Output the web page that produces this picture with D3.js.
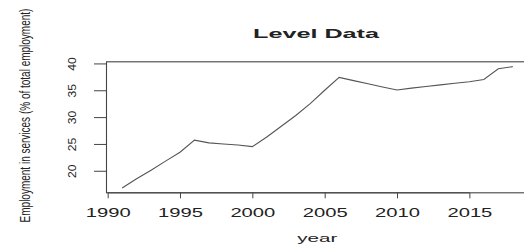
<!DOCTYPE html>
<html>
<head>
<meta charset="utf-8">
<script src="https://cdn.jsdelivr.net/npm/d3@7"></script>
<style>
  html, body { margin: 0; padding: 0; background: #fff; }
  svg { display: block; }
  text { font-family: "Liberation Sans", Arial, sans-serif; fill: #222; }
</style>
</head>
<body>
<script>
const years = [1991,1992,1993,1994,1995,1996,1997,1998,1999,2000,2001,2002,2003,2004,2005,2006,2007,2008,2009,2010,2011,2012,2013,2014,2015,2016,2017,2018];
const values = [16.8,18.5,20.1,21.8,23.45,25.7,25.2,25.0,24.8,24.5,26.3,28.3,30.3,32.5,35.0,37.4,36.8,36.2,35.6,35.05,35.4,35.7,36.0,36.3,36.6,37.0,39.0,39.4];
const xTicks = [1990,1995,2000,2005,2010,2015];
const yTicks = [20,25,30,35,40];
const title = "Level Data";
const xTitle = "year";
const yTitle = "Employment in services (% of total employment)";

const W = 524, H = 249;
const svg = d3.select("body").append("svg").attr("width", W).attr("height", H);

// R-style 4% axis extension
const xe = d3.extent(years), ye = d3.extent(values);
const xPad = (xe[1]-xe[0])*0.04, yPad = (ye[1]-ye[0])*0.04;
const x = d3.scaleLinear().domain([xe[0]-xPad, xe[1]+xPad]).range([106.5, 528.4]);
const y = d3.scaleLinear().domain([ye[0]-yPad, ye[1]+yPad]).range([192.8, 61.8]);

const axisCol = "#444";

// place a text scaled along its own direction to a target length
function fitText(sel, cx, cy, len, rot) {
  sel.attr("x", 0).attr("y", 0).attr("text-anchor", "middle");
  const natural = sel.node().getComputedTextLength();
  const s = len / natural;
  sel.attr("transform", `translate(${cx},${cy}) rotate(${rot}) scale(${s},1)`);
}

// box
svg.append("rect")
  .attr("x", x.range()[0]).attr("y", y.range()[1])
  .attr("width", x.range()[1]-x.range()[0]).attr("height", y.range()[0]-y.range()[1])
  .attr("fill", "none").attr("stroke", axisCol).attr("stroke-width", 1.1);

// line
const line = d3.line().x((d,i)=>x(years[i])).y(d=>y(d));
svg.append("path").datum(values)
  .attr("d", line).attr("fill", "none")
  .attr("stroke", "#555").attr("stroke-width", 1.1);

// x axis
const xa = svg.append("g").attr("transform", `translate(0,${y.range()[0]})`)
  .call(d3.axisBottom(x).tickValues(xTicks).tickSize(5.5).tickSizeOuter(0).tickFormat(d3.format("d")));
xa.select(".domain").attr("stroke", axisCol).attr("d", `M${x(xTicks[0])},0H${x(xTicks[xTicks.length-1])}`);
xa.selectAll(".tick line").attr("stroke", axisCol);
xa.selectAll(".tick text").attr("dy", 0)
  .style("font-size", "12px").attr("fill", "#222")
  .each(function() { fitText(d3.select(this), 0, 24, 45, 0); });

// y axis
const ya = svg.append("g").attr("transform", `translate(${x.range()[0]},0)`)
  .call(d3.axisLeft(y).tickValues(yTicks).tickSize(12.5).tickSizeOuter(0));
ya.select(".domain").attr("stroke", axisCol).attr("d", `M0,${y(yTicks[0])}V${y(yTicks[yTicks.length-1])}`);
ya.selectAll(".tick line").attr("stroke", axisCol);
ya.selectAll(".tick text").attr("dy", 0)
  .style("font-size", "10.8px").attr("fill", "#222")
  .each(function() { fitText(d3.select(this), -30.5, 0, 13.5, -90); });

// titles
const t = svg.append("text").style("font-weight", "bold").style("font-size", "12.8px")
  .attr("fill", "#111").text(title);
fitText(t, 316, 38.3, 126, 0);

const xt = svg.append("text").style("font-size", "11.5px").text(xTitle);
fitText(xt, 317.3, 241.7, 40, 0);

const yt = svg.append("text").style("font-size", "14px").text(yTitle);
fitText(yt, 30, 115.5, 214, -90);
</script>
</body>
</html>
